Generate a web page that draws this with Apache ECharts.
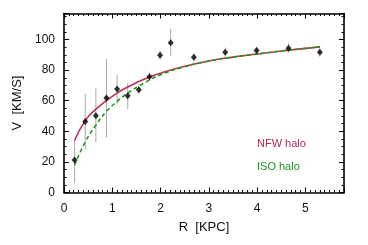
<!DOCTYPE html>
<html>
<head>
<meta charset="utf-8">
<script src="https://cdn.jsdelivr.net/npm/echarts@6/dist/echarts.min.js"></script>
<style>
  html, body { margin: 0; padding: 0; background: #fff; }
  #main { width: 368px; height: 245px; }
</style>
</head>
<body>
<div id="main"></div>
<script>
// observed rotation curve points
var radius = [0.22, 0.44, 0.66, 0.88, 1.10, 1.32, 1.55, 1.77, 1.99, 2.21, 2.69, 3.34, 3.99, 4.65, 5.30];
var velocity = [21.3, 46.4, 50.2, 61.8, 67.7, 63.3, 67.2, 75.7, 89.7, 97.8, 88.4, 91.7, 92.8, 94.3, 91.7];
var errLow = [6, 28.3, 32.7, 36, 57.8, 54.6, 64.6, 73, 86.8, 89, 85.8, 88.7, 90.2, 91.3, 88.7];
var errHigh = [34.6, 64.4, 68, 87.3, 77, 71.6, 70.5, 78.5, 92.8, 107, 91, 94.7, 95.2, 97.8, 94.7];

// model curves
var modelR = [0.22, 0.44, 0.66, 0.88, 1.10, 1.32, 1.55, 1.77, 2.0, 2.5, 3.0, 3.5, 4.0, 4.5, 5.0, 5.3];
var nfwV = [34, 47, 54.5, 60, 65, 69, 72.5, 75.5, 78, 82.5, 86, 88.5, 90.5, 92.5, 94.2, 95.2];
var isoV = [18, 33, 44, 53, 59.5, 65, 69.5, 73.5, 77, 82.2, 85.9, 88.5, 90.5, 92.5, 94.2, 95.2];

var xTicks = [0, 1, 2, 3, 4, 5];
var yTicks = [0, 20, 40, 60, 80, 100];

var chartDom = document.getElementById('main');
var myChart = echarts.init(chartDom);

function pairs(xs, ys) {
  return xs.map(function (x, i) { return [x, ys[i]]; });
}

var font = 'Liberation Sans';
var axisCommon = {
  type: 'value',
  axisLine: { show: true, onZero: false, lineStyle: { color: '#000', width: 1.6 } },
  axisTick: { show: true, inside: true, length: 5, lineStyle: { color: '#000', width: 1 } },
  minorTick: { show: true, length: 2.5, lineStyle: { color: '#000', width: 1 } },
  splitLine: { show: false }
};

var option = {
  animation: false,
  grid: { left: 64, right: 24, top: 13.5, bottom: 52.5 },
  xAxis: [
    Object.assign({}, axisCommon, {
      position: 'bottom',
      min: 0, max: 5.8, interval: 1,
      minorTick: Object.assign({}, axisCommon.minorTick, { splitNumber: 10 }),
      name: 'R  [KPC]',
      nameLocation: 'middle',
      nameGap: 28,
      nameTextStyle: { fontFamily: font, fontSize: 13, color: '#111' },
      axisLabel: {
        fontFamily: font, fontSize: 12, color: '#111', margin: 10,
        showMaxLabel: false,
        formatter: function (v) { return xTicks.indexOf(v) >= 0 ? String(v) : ''; }
      }
    }),
    Object.assign({}, axisCommon, {
      position: 'top',
      min: 0, max: 5.8, interval: 1,
      minorTick: Object.assign({}, axisCommon.minorTick, { splitNumber: 10 }),
      axisLabel: { show: false }
    })
  ],
  yAxis: [
    Object.assign({}, axisCommon, {
      position: 'left',
      min: 0, max: 117, interval: 20,
      minorTick: Object.assign({}, axisCommon.minorTick, { splitNumber: 4 }),
      name: 'V  [KM/S]',
      nameLocation: 'middle',
      nameGap: 37,
      nameRotate: 90,
      nameTextStyle: { fontFamily: font, fontSize: 13, color: '#111' },
      axisLabel: {
        fontFamily: font, fontSize: 12, color: '#111', margin: 9,
        showMaxLabel: false,
        formatter: function (v) { return yTicks.indexOf(v) >= 0 ? String(v) : ''; }
      }
    }),
    Object.assign({}, axisCommon, {
      position: 'right',
      min: 0, max: 117, interval: 20,
      minorTick: Object.assign({}, axisCommon.minorTick, { splitNumber: 4 }),
      axisLabel: { show: false }
    })
  ],
  graphic: [
    {
      type: 'text', left: 257, top: 138,
      style: { text: 'NFW halo', fontFamily: font, fontSize: 11, fill: '#b82a50' }
    },
    {
      type: 'text', left: 257, top: 161,
      style: { text: 'ISO halo', fontFamily: font, fontSize: 11, fill: '#1a9a1a' }
    }
  ],
  series: [
    {
      name: 'errors',
      type: 'custom',
      z: 1,
      data: radius.map(function (r, i) { return [r, errLow[i], errHigh[i]]; }),
      renderItem: function (params, api) {
        var lo = api.coord([api.value(0), api.value(1)]);
        var hi = api.coord([api.value(0), api.value(2)]);
        return {
          type: 'line',
          shape: { x1: lo[0], y1: lo[1], x2: hi[0], y2: hi[1] },
          style: { stroke: '#aaaaaa', lineWidth: 1 }
        };
      }
    },
    {
      name: 'NFW halo',
      type: 'line',
      z: 2,
      smooth: true,
      symbol: 'none',
      lineStyle: { color: '#c0304f', width: 1.6 },
      data: pairs(modelR, nfwV)
    },
    {
      name: 'ISO halo',
      type: 'line',
      z: 3,
      smooth: true,
      symbol: 'none',
      lineStyle: { color: '#1f9a1f', width: 1.6, type: [4, 3] },
      data: pairs(modelR, isoV)
    },
    {
      name: 'data',
      type: 'scatter',
      z: 4,
      symbol: 'diamond',
      symbolSize: [6, 7],
      itemStyle: { color: '#000' },
      data: pairs(radius, velocity)
    }
  ]
};

option && myChart.setOption(option);
</script>
</body>
</html>
